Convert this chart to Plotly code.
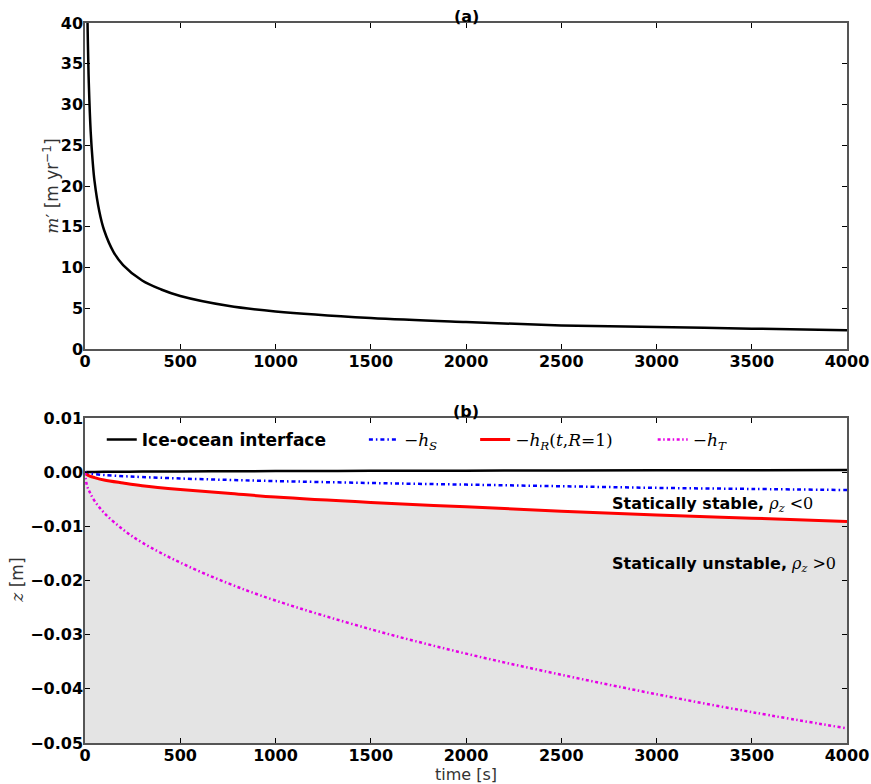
import plotly.graph_objects as go
from plotly.subplots import make_subplots

# ---- Panel (a): melt rate m' [m/yr] vs time [s]
t_a = [10, 13, 15, 20, 30, 40, 50, 75, 100, 150, 200, 300, 400, 500, 750,
       1000, 1500, 2000, 2500, 3000, 3500, 4000]
m_prime = [46.0, 40.5, 37.7, 32.6, 26.6, 23.1, 20.6, 16.9, 14.6, 11.9, 10.3,
           8.4, 7.3, 6.5, 5.3, 4.6, 3.8, 3.3, 2.9, 2.7, 2.5, 2.3]

# ---- Panel (b): depths z [m] vs time [s]
t_b = [0, 10, 25, 50, 100, 200, 300, 500, 750, 1000, 1500, 2000, 2500, 3000, 3500, 4000]
interface = [0, 0.00002, 0.00003, 0.00004, 0.00006, 0.00009, 0.00011, 0.00014,
             0.00017, 0.0002, 0.00024, 0.00028, 0.00032, 0.00035, 0.00037, 0.0004]
neg_hS = [0, -0.00017, -0.00026, -0.00037, -0.00052, -0.00074, -0.0009, -0.00117,
          -0.00143, -0.00165, -0.0020, -0.0023, -0.0026, -0.0029, -0.0031, -0.0033]
neg_hR = [0, -0.00046, -0.00072, -0.0010, -0.00144, -0.0020, -0.0025, -0.0032,
          -0.0039, -0.0046, -0.0056, -0.0064, -0.0072, -0.0079, -0.0085, -0.0091]
neg_hT = [0, -0.0024, -0.0037, -0.0053, -0.0075, -0.0106, -0.0130, -0.0167,
          -0.0205, -0.0237, -0.0290, -0.0335, -0.0374, -0.0410, -0.0443, -0.0473]
z_bottom = -0.05

x_ticks = [0, 500, 1000, 1500, 2000, 2500, 3000, 3500, 4000]
ya_ticks = [0, 5, 10, 15, 20, 25, 30, 35, 40]
yb_ticks = [0.01, 0.0, -0.01, -0.02, -0.03, -0.04, -0.05]
yb_labels = ["0.01", "0.00", "−0.01", "−0.02", "−0.03", "−0.04", "−0.05"]

SERIF = "DejaVu Serif"
SANS = "DejaVu Sans"

fig = make_subplots(rows=2, cols=1, shared_xaxes=False, vertical_spacing=0.0)

fig.add_trace(go.Scatter(x=t_a, y=m_prime, mode="lines", line=dict(color="black", width=2.5, shape="spline"),
                         showlegend=False), row=1, col=1)

# shaded unstable region: between -h_R and bottom
fig.add_trace(go.Scatter(x=t_b, y=[z_bottom] * len(t_b), mode="lines", line=dict(width=0),
                         showlegend=False, hoverinfo="skip"), row=2, col=1)
fig.add_trace(go.Scatter(x=t_b, y=neg_hR, mode="lines", line=dict(width=0, shape="spline"),
                         fill="tonexty", fillcolor="#e4e4e4", showlegend=False, hoverinfo="skip"), row=2, col=1)

fig.add_trace(go.Scatter(x=t_b, y=interface, mode="lines", line=dict(color="black", width=2.5, shape="spline"),
                         name="<b>Ice-ocean interface</b>", legend="legend"), row=2, col=1)
fig.add_trace(go.Scatter(x=t_b, y=neg_hS, mode="lines",
                         line=dict(color="blue", width=2.5, dash="4px,3px,1.5px,3px", shape="spline"),
                         name="<span style='font-family:DejaVu Serif'>−<i>h</i><sub><i>S</i></sub></span>",
                         legend="legend2"), row=2, col=1)
fig.add_trace(go.Scatter(x=t_b, y=neg_hR, mode="lines", line=dict(color="red", width=3, shape="spline"),
                         name="<span style='font-family:DejaVu Serif'>−<i>h</i><sub><i>R</i></sub>(<i>t</i>,<i>R</i>=1)</span>",
                         legend="legend3"), row=2, col=1)
fig.add_trace(go.Scatter(x=t_b, y=neg_hT, mode="lines",
                         line=dict(color="#e600e6", width=2.5, dash="3px,2.5px,1.5px,2.5px", shape="spline"),
                         name="<span style='font-family:DejaVu Serif'>−<i>h</i><sub><i>T</i></sub></span>",
                         legend="legend4"), row=2, col=1)

tickfont = dict(family=SANS, size=16, color="black", weight="bold")
axis_common = dict(showline=True, linecolor="#555555", linewidth=1.5, mirror="allticks",
                   ticks="inside", ticklen=5, tickcolor="black", showgrid=False, zeroline=False,
                   tickfont=tickfont, automargin=False)

fig.update_xaxes(range=[0, 4000], tickvals=x_ticks, ticktext=[str(v) for v in x_ticks],
                 ticklabelstandoff=-3, **axis_common)
fig.update_xaxes(domain=[0, 1], row=1, col=1)
fig.update_yaxes(range=[0, 40], tickvals=ya_ticks, ticktext=[str(v) for v in ya_ticks],
                 domain=[0.5472, 1.0], row=1, col=1, ticklabelstandoff=-3, **axis_common)
fig.update_yaxes(range=[-0.05, 0.01], tickvals=yb_ticks, ticktext=yb_labels,
                 domain=[0.0, 0.4514], row=2, col=1, ticklabelstandoff=-3, **axis_common)

leg_common = dict(orientation="h", yanchor="middle", y=0.421, bgcolor="rgba(0,0,0,0)",
                  font=dict(family=SANS, size=17, color="black"), tracegroupgap=0)
fig.update_layout(
    legend=dict(x=0.022, **leg_common),
    legend2=dict(x=0.366, **leg_common),
    legend3=dict(x=0.512, **leg_common),
    legend4=dict(x=0.745, **leg_common),
)

# axis titles as annotations for exact placement
title_font = dict(family=SANS, size=17, color="#333333")
fig.add_annotation(text="<span style='font-family:DejaVu Serif'><i>m</i>′</span> [m yr<sup>−1</sup>]",
                   xref="paper", yref="paper", x=-0.045, y=(0.5472 + 1.0) / 2, textangle=-90,
                   xanchor="center", yanchor="middle", showarrow=False, font=title_font)
fig.add_annotation(text="<span style='font-family:DejaVu Serif'><i>z</i></span> [m]",
                   xref="paper", yref="paper", x=-0.089, y=0.4514 / 2, textangle=-90,
                   xanchor="center", yanchor="middle", showarrow=False, font=title_font)
fig.add_annotation(text="time [s]", xref="paper", yref="paper", x=0.5, y=0, yanchor="middle",
                   yshift=-31, showarrow=False, font=dict(family=SANS, size=16, color="#333333"))

ann_font = dict(family=SANS, size=16, color="black")
fig.add_annotation(text="<b>(a)</b>", xref="paper", yref="paper", x=0.5, y=1.0, yanchor="bottom",
                   showarrow=False, font=ann_font, yshift=-5)
fig.add_annotation(text="<b>(b)</b>", xref="paper", yref="paper", x=0.5, y=0.4514, yanchor="bottom",
                   showarrow=False, font=ann_font, yshift=-5)
txt_font = dict(family=SANS, size=16, color="black")
fig.add_annotation(text="<b>Statically stable,</b> <span style='font-family:DejaVu Serif'><i>ρ</i><sub><i>z</i></sub> &lt;0</span>",
                   x=2756, y=-0.0060, xref="x2", yref="y2", xanchor="left", yanchor="middle",
                   showarrow=False, font=txt_font)
fig.add_annotation(text="<b>Statically unstable,</b> <span style='font-family:DejaVu Serif'><i>ρ</i><sub><i>z</i></sub> &gt;0</span>",
                   x=2756, y=-0.0171, xref="x2", yref="y2", xanchor="left", yanchor="middle",
                   showarrow=False, font=txt_font)

fig.update_layout(width=871, height=784, margin=dict(l=85, r=24, t=23, b=41),
                  plot_bgcolor="white", paper_bgcolor="white")

fig.write_html("out.html")
